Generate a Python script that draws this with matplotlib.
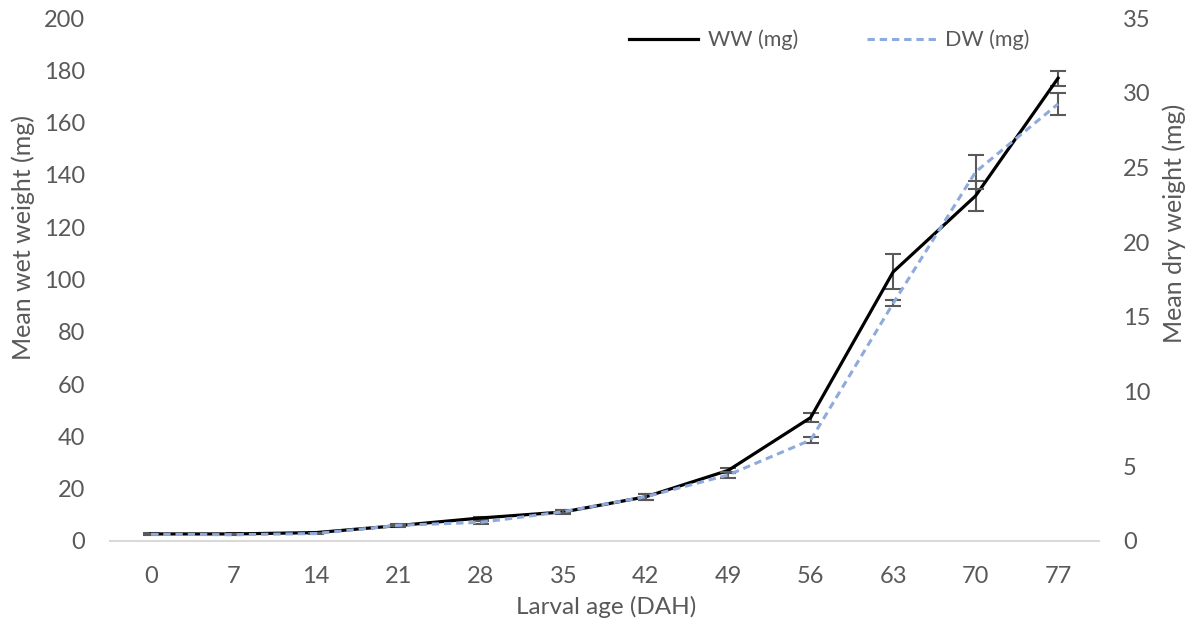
import numpy as np
import matplotlib
matplotlib.use("Agg")
from matplotlib import pyplot as plt

# larval age (days after hatching)
age = [0, 7, 14, 21, 28, 35, 42, 49, 56, 63, 70, 77]

# mean wet weight (mg) and its error
ww = [2.7, 2.7, 3.2, 5.9, 8.8, 11.1, 16.9, 27.0, 47.2, 102.9, 132.0, 177.0]
ww_err = [0.2, 0.2, 0.3, 0.4, 0.5, 0.6, 1.2, 1.0, 1.6, 6.7, 5.8, 2.9]

# mean dry weight (mg) and its error
dw = [0.45, 0.42, 0.5, 1.05, 1.25, 1.96, 2.96, 4.42, 6.76, 15.9, 24.7, 29.25]
dw_err = [0.05, 0.05, 0.05, 0.08, 0.1, 0.12, 0.2, 0.2, 0.22, 0.2, 1.15, 0.73]

grey = '#595959'
plt.rcParams['font.family'] = ['Lato', 'DejaVu Sans']

fig = plt.figure(figsize=(11.95, 6.26), dpi=100)
ax = fig.add_axes([0.0919, 0.1358, 0.828, 0.8354])
ax2 = ax.twinx()

l1, = ax.plot(age, ww, color='black', linewidth=2.3, label='WW (mg)', zorder=3)
ax.errorbar(age, ww, yerr=ww_err, fmt='none', ecolor=grey, elinewidth=1.5,
            capsize=6, capthick=1.5, zorder=2)
l2, = ax2.plot(age, dw, color='#8faadc', linewidth=2.2, linestyle=(0, (2.4, 1.6)),
               label='DW (mg)', zorder=3)
ax2.errorbar(age, dw, yerr=dw_err, fmt='none', ecolor=grey, elinewidth=1.5,
             capsize=6, capthick=1.5, zorder=2)

ax.set_xlim(-3.5, 80.5)
ax.set_ylim(0, 200)
ax2.set_ylim(0, 35)
ax.set_xticks(age)
ax.set_yticks(np.arange(0, 201, 20))
ax2.set_yticks(np.arange(0, 36, 5))

for a in (ax, ax2):
    for s in a.spines.values():
        s.set_visible(False)
    a.tick_params(length=0, colors=grey, labelsize=17)
ax.spines['bottom'].set_visible(True)
ax.spines['bottom'].set_color('#d9d9d9')
ax.spines['bottom'].set_linewidth(1.5)
ax.tick_params(axis='y', pad=18)
ax.tick_params(axis='x', pad=18)
ax2.tick_params(axis='y', pad=17)

ax.set_xlabel('Larval age (DAH)', color=grey, fontsize=17.5, va='center')
ax.xaxis.set_label_coords(0.502, -0.127)
ax.set_ylabel('Mean wet weight (mg)', color=grey, fontsize=18, va='center')
ax.yaxis.set_label_coords(-0.0879, 0.581)
ax2.set_ylabel('Mean dry weight (mg)', color=grey, fontsize=18, va='center')
ax2.yaxis.set_label_coords(1.076, 0.608)

fig.legend(handles=[l1, l2], loc='center right', bbox_to_anchor=(1049 / 1195, 1 - 40 / 626),
           ncol=2, frameon=False, handlelength=3.2, columnspacing=3.2,
           handletextpad=0.45, fontsize=15.5, labelcolor=grey)

fig.savefig('out.png', dpi=100)
